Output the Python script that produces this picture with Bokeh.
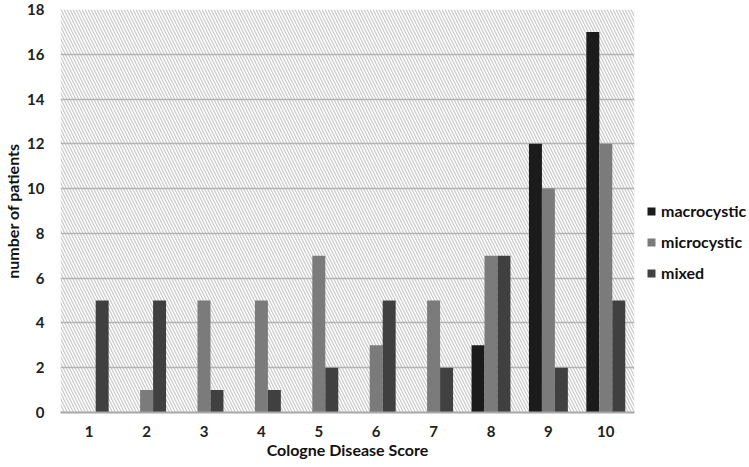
from bokeh.plotting import figure
from bokeh.models import (FactorRange, Range1d, BoxAnnotation, Legend, LegendItem,
                          ColumnDataSource, FixedTicker)
from bokeh.transform import dodge
from bokeh.embed import file_html
from bokeh.resources import INLINE

scores = ["1", "2", "3", "4", "5", "6", "7", "8", "9", "10"]
macrocystic = [0, 0, 0, 0, 0, 0, 0, 3, 12, 17]
microcystic = [0, 1, 5, 5, 7, 3, 5, 7, 10, 12]
mixed = [5, 5, 1, 1, 2, 5, 2, 7, 2, 5]
series_names = ["macrocystic", "microcystic", "mixed"]
y_ticks = [0, 2, 4, 6, 8, 10, 12, 14, 16, 18]

colors = ["#1b1b1b", "#7b7b7b", "#404040"]
FONT = "Lato"

src = ColumnDataSource(dict(score=scores, macrocystic=macrocystic,
                            microcystic=microcystic, mixed=mixed))

p = figure(frame_width=574, frame_height=403, output_backend="svg", toolbar_location=None,
           x_range=FactorRange(factors=scores, range_padding=0),
           y_range=Range1d(0, 18),
           min_border_left=50, min_border_top=9, min_border_bottom=36, min_border_right=0)
p.outline_line_color = None

# hatched plot background
bg = BoxAnnotation(fill_alpha=0, line_color=None, hatch_pattern="left_diagonal_line",
                   hatch_color="#c8c8c8", hatch_scale=6, hatch_weight=1.2, level="image")
p.add_layout(bg)

bw = 0.226
offsets = [-bw, 0, bw]
renderers = []
for name, off, c in zip(series_names, offsets, colors):
    r = p.vbar(x=dodge("score", off, range=p.x_range), top=name, width=bw,
               source=src, fill_color=c, line_color=None)
    renderers.append(r)

p.xgrid.visible = False
p.ygrid.grid_line_color = "#b4b4b4"
p.ygrid.grid_line_width = 1.6
p.yaxis.ticker = FixedTicker(ticks=y_ticks)

for ax in (p.xaxis[0], p.yaxis[0]):
    ax.major_tick_line_color = None
    ax.minor_tick_line_color = None
    ax.major_label_text_font = FONT
    ax.major_label_text_font_style = "bold"
    ax.major_label_text_font_size = "15px"
    ax.major_label_text_color = "#222222"
    ax.axis_label_text_font = FONT
    ax.axis_label_text_font_style = "bold"
    ax.axis_label_text_color = "#111111"
    ax.axis_label_text_font_size = "16px"
    ax.major_label_standoff = 10

p.yaxis.axis_line_color = None
p.xaxis.axis_line_color = "#a8a8a8"
p.xaxis.axis_line_width = 2
p.xaxis.major_label_standoff = 7
p.xaxis.axis_label = "Cologne Disease Score"
p.xaxis.axis_label_standoff = 0
p.yaxis.axis_label = "number of patients"
p.yaxis.axis_label_standoff = 2

legend = Legend(items=[LegendItem(label=n, renderers=[r]) for n, r in zip(series_names, renderers)],
                location=(12, 130), border_line_color=None, background_fill_alpha=0,
                label_text_font=FONT, label_text_font_style="bold", label_text_font_size="16px",
                label_text_color="#111111", glyph_width=10, glyph_height=10, label_standoff=5,
                spacing=12, padding=0, margin=0)
p.add_layout(legend, "right")

open("out.html", "w").write(file_html(p, INLINE))
